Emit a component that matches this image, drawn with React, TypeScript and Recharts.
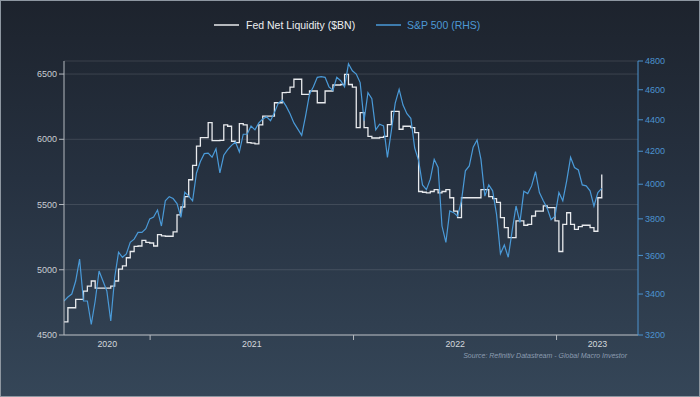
import React from 'react';
import { LineChart, Line, XAxis, YAxis, CartesianGrid } from 'recharts';

// Weekly observations, week 0 = 31 Jul 2020
const fedLiquidity: number[] = [
  4600, 4709, 4709, 4773, 4773, 4837, 4875, 4914, 4860, 4860,
  4860, 4860, 4875, 4914, 5005, 5030, 5092, 5140, 5180, 5182,
  5225, 5210, 5205, 5182, 5270, 5260, 5257, 5257, 5290, 5420,
  5481, 5560, 5690, 5800, 5948, 6012, 6012, 6127, 5990, 5990,
  5992, 6110, 6100, 5985, 5975, 6120, 6110, 5975, 5970, 5965,
  6110, 6178, 6178, 6178, 6280, 6280, 6357, 6360, 6400, 6460,
  6460, 6344, 6344, 6370, 6370, 6280, 6280, 6370, 6370, 6416,
  6416, 6420, 6498, 6420, 6400, 6089, 6205, 6089, 6023, 6010,
  6010, 6015, 6023, 6112, 6214, 6214, 6077, 6100, 6100, 6089,
  6051, 5600, 5594, 5590, 5600, 5614, 5590, 5600, 5614, 5552,
  5450, 5399, 5552, 5552, 5552, 5552, 5552, 5614, 5614, 5560,
  5545, 5516, 5399, 5323, 5246, 5246, 5374, 5374, 5341, 5348,
  5412, 5450, 5450, 5489, 5476, 5476, 5374, 5140, 5348, 5437,
  5348, 5310, 5330, 5341, 5341, 5323, 5295, 5552, 5731,
];

const sp500: number[] = [
  3365, 3385, 3400, 3466, 3580, 3365, 3365, 3250, 3365, 3518,
  3466, 3415, 3267, 3483, 3617, 3590, 3608, 3670, 3688, 3725,
  3725, 3745, 3800, 3810, 3850, 3760, 3903, 3927, 3916, 3887,
  3808, 3953, 3930, 3903, 4067, 4137, 4185, 4188, 4163, 4215,
  4067, 4175, 4210, 4237, 4258, 4195, 4307, 4307, 4360, 4335,
  4380, 4405, 4420, 4394, 4447, 4510, 4530, 4490, 4440, 4380,
  4340, 4300, 4425, 4570, 4620, 4685, 4690, 4685, 4620, 4595,
  4685, 4662, 4620, 4780, 4731, 4708, 4649, 4395, 4580, 4540,
  4335, 4371, 4360, 4162, 4329, 4510, 4603, 4497, 4440, 4410,
  4220, 4142, 3996, 3968, 4030, 4150, 4100, 3760, 3670, 3845,
  3835, 3815, 3903, 4080, 4110, 4225, 4270, 4150, 3930, 3996,
  3961, 3825, 3609, 3656, 3590, 3733, 3873, 3780, 3958, 3945,
  3990, 4075, 3951, 3903, 3860, 3795, 3815, 3951, 3903, 4020,
  4162, 4100, 4085, 3996, 3990, 3961, 3872, 3951, 3975,
];

const leftTicks = [4500, 5000, 5500, 6000, 6500];
const rightTicks = [3200, 3400, 3600, 3800, 4000, 4200, 4400, 4600, 4800];
const yearLabels = ['2020', '2021', '2022', '2023'];
const yearLabelWeeks = [11.1, 48.2, 100.4, 136.9];
const yearStartWeeks = [22.1, 74.3, 126.4];
const weekDomain: [number, number] = [0, 147.3];

const data = fedLiquidity.map((v, i) => ({ w: i, fed: v, sp: sp500[i] }));

const FONT = '"Liberation Sans", Arial, sans-serif';

const XTick = (props: any) => {
  const { x, y, payload } = props;
  const idx = yearLabelWeeks.indexOf(payload.value);
  if (idx >= 0) {
    return (
      <text x={x} y={y + 12} textAnchor="middle" fill="#d4d8dc" fontSize={8.8} fontFamily={FONT}>
        {yearLabels[idx]}
      </text>
    );
  }
  return <line x1={x} y1={y} x2={x} y2={y + 5} stroke="#b4b9bf" strokeWidth={1} />;
};

export default function App() {
  return (
    <div
      style={{
        position: 'absolute',
        left: 0,
        top: 0,
        width: 700,
        height: 397,
        overflow: 'hidden',
        boxSizing: 'border-box',
        border: '1px solid #8e97a1',
        background: 'linear-gradient(180deg, #1d232d 0%, #263140 45%, #354658 100%)',
        fontFamily: FONT,
      }}
    >
      <div style={{ position: 'absolute', left: 0, top: 0, width: 700, height: 397 }}>
        <LineChart
          width={700}
          height={397}
          data={data}
          margin={{ top: 60, right: 10, bottom: 39, left: 10 }}
        >
          <CartesianGrid
            yAxisId="left"
            vertical={false}
            stroke="rgba(255,255,255,0.12)"
            strokeWidth={1}
          />
          <XAxis
            dataKey="w"
            type="number"
            domain={weekDomain}
            ticks={[yearLabelWeeks[0], yearStartWeeks[0], yearLabelWeeks[1], yearStartWeeks[1], yearLabelWeeks[2], yearStartWeeks[2], yearLabelWeeks[3]]}
            tick={<XTick />}
            tickLine={false}
            tickSize={0}
            tickMargin={0}
            height={24}
            axisLine={{ stroke: '#b4b9bf', strokeWidth: 1 }}
            allowDataOverflow
            interval={0}
          />
          <YAxis
            yAxisId="left"
            orientation="left"
            width={53}
            domain={[4500, 6600]}
            ticks={leftTicks}
            interval={0}
            allowDataOverflow
            tick={{ fill: '#c9cdd2', fontSize: 9, fontFamily: FONT }}
            tickLine={{ stroke: '#b4b9bf' }}
            tickSize={5}
            tickMargin={2}
            axisLine={{ stroke: '#b4b9bf', strokeWidth: 1 }}
          />
          <YAxis
            yAxisId="right"
            orientation="right"
            width={53}
            scale="log"
            domain={[3200, 4800]}
            ticks={rightTicks}
            interval={0}
            allowDataOverflow
            tick={{ fill: '#4c93cf', fontSize: 9, fontFamily: FONT }}
            tickLine={{ stroke: '#4c93cf' }}
            tickSize={5}
            tickMargin={2}
            axisLine={{ stroke: '#4c93cf', strokeWidth: 1 }}
          />
          <Line
            yAxisId="left"
            dataKey="fed"
            type="stepAfter"
            stroke="#e8eaed"
            strokeWidth={1.3}
            dot={false}
            isAnimationActive={false}
          />
          <Line
            yAxisId="right"
            dataKey="sp"
            type="linear"
            stroke="#4a9ad8"
            strokeWidth={1.2}
            dot={false}
            isAnimationActive={false}
          />
        </LineChart>
      </div>
      {/* Legend */}
      <svg style={{ position: 'absolute', left: 0, top: 0 }} width={700} height={50}>
        <line x1={213} y1={24} x2={238} y2={24} stroke="#e8eaed" strokeWidth={1.5} />
        <line x1={375} y1={24} x2={400} y2={24} stroke="#4a9ad8" strokeWidth={1.5} />
      </svg>
      <div style={{ position: 'absolute', left: 245, top: 17, fontSize: 10.5, color: '#eceef0', whiteSpace: 'nowrap', lineHeight: '14px' }}>
        Fed Net Liquidity ($BN)
      </div>
      <div style={{ position: 'absolute', left: 406, top: 17, fontSize: 10.5, color: '#4c98d4', whiteSpace: 'nowrap', lineHeight: '14px' }}>
        S&amp;P 500 (RHS)
      </div>
      <div
        style={{
          position: 'absolute',
          right: 72,
          top: 350,
          fontSize: 7,
          fontStyle: 'italic',
          color: '#8c9cb0',
          whiteSpace: 'nowrap',
          lineHeight: '10px',
        }}
      >
        Source: Refinitiv Datastream - Global Macro Investor
      </div>
    </div>
  );
}
